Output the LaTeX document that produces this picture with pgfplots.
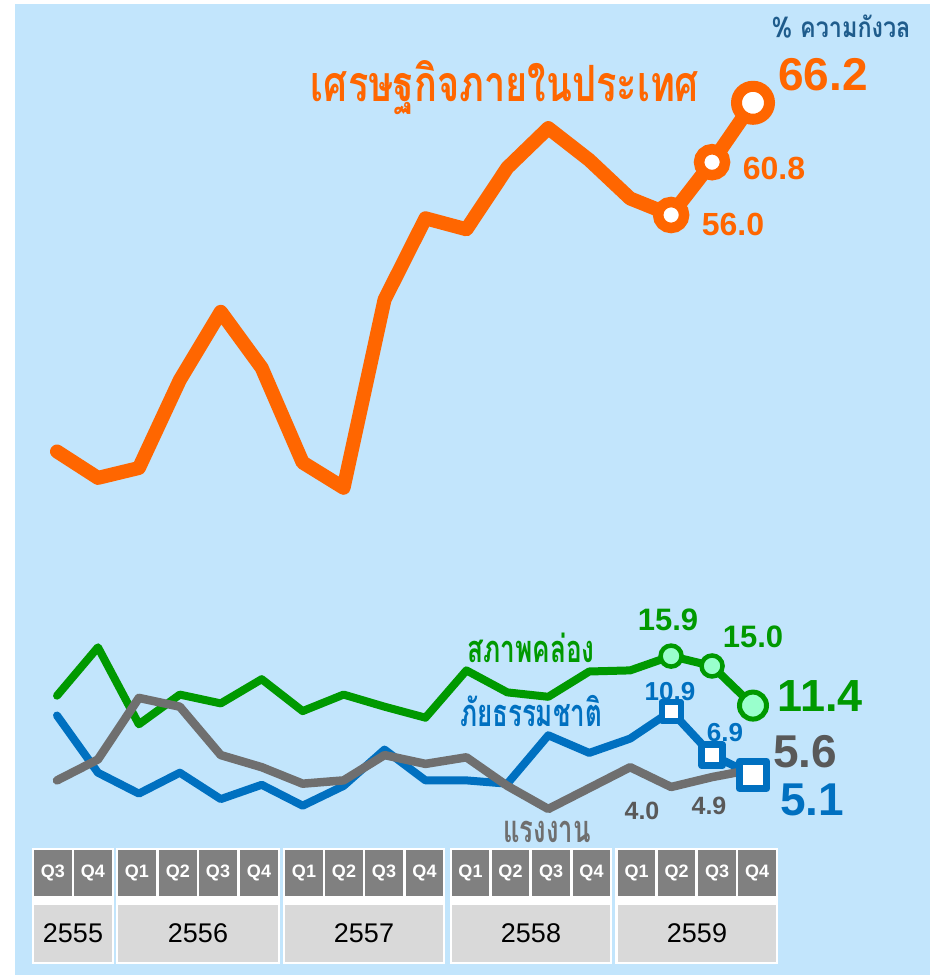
\documentclass[border=0pt]{standalone}
\usepackage{pgfplots}
\pgfplotsset{compat=1.18}
\usepackage{graphicx}
\usepackage{fontspec}
\setmainfont{Liberation Sans}
\newfontfamily\thaifont[Script=Thai]{Loma}
\definecolor{bg}{HTML}{C2E5FC}
\definecolor{orng}{HTML}{FF6600}
\definecolor{grn}{HTML}{009900}
\definecolor{blu}{HTML}{0070C0}
\definecolor{gry}{HTML}{6F6F6F}
\definecolor{dgry}{HTML}{595959}
\definecolor{hdr}{HTML}{808080}
\definecolor{yr}{HTML}{D9D9D9}
\definecolor{lgrn}{HTML}{99FFCC}
\definecolor{ttl}{HTML}{1F5C8C}
\newcommand{\fs}[1]{\fontsize{#1}{#1}\selectfont}

\pgfplotstableread{
x y
0 34.5
1 32.1
2 33.0
3 41.0
4 47.2
5 42.1
6 33.5
7 31.2
8 48.3
9 55.7
10 54.7
11 60.3
12 63.9
13 61.0
14 57.5
15 56.0
16 60.8
17 66.2
}\econ
\pgfplotstableread{
x y
0 12.3
1 16.7
2 9.7
3 12.4
4 11.6
5 13.8
6 10.9
7 12.4
8 11.3
9 10.3
10 14.6
11 12.6
12 12.2
13 14.5
14 14.6
15 15.9
16 15.0
17 11.4
}\liq
\pgfplotstableread{
x y
0 10.5
1 5.3
2 3.4
3 5.3
4 2.9
5 4.2
6 2.3
7 4.1
8 7.4
9 4.6
10 4.6
11 4.3
12 8.7
13 7.1
14 8.4
15 10.9
16 6.9
17 5.1
}\disaster
\pgfplotstableread{
x y
0 4.6
1 6.5
2 12.1
3 11.3
4 6.9
5 5.8
6 4.3
7 4.6
8 6.9
9 6.1
10 6.7
11 4.1
12 2.0
13 3.9
14 5.8
15 4.0
16 4.9
17 5.6
}\labour

\begin{document}
\begin{tikzpicture}
\path[use as bounding box] (0,0) rectangle (465pt,487.5pt);
\begin{scope}[shift={(0,487.5pt)},x=0.5pt,y=-0.5pt]
\fill[white] (0,0) rectangle (930,975);
\fill[bg] (15,4) rectangle (930,975);
\foreach \a/\b in {32/114,116/280,283/445,450/612,615/778}{\fill[white] (\a,848) rectangle (\b,964);}
\foreach \a/\b/\q in {34/72/Q3,74/112/Q4,118/156/Q1,159/197/Q2,199/237/Q3,240/278/Q4,285/323/Q1,325/363/Q2,365/403/Q3,406/443/Q4,452/489/Q1,492/529/Q2,532/570/Q3,573/610/Q4,618/655/Q1,658/695/Q2,698/736/Q3,738/776/Q4}{
  \fill[hdr] (\a,850) rectangle (\b,896);
  \node[white,font=\bfseries\fs{9}] at ({(\a+\b)/2},873) {\q};
}
\foreach \a/\b/\y in {34/112/2555,118/278/2556,285/443/2557,452/610/2558,618/776/2559}{
  \fill[yr] (\a,905) rectangle (\b,962);
  \node[black,font=\fs{13.5}] at ({(\a+\b)/2},933.5) {\y};
}
\end{scope}
\begin{axis}[at={(0,0)},anchor=south west,width=465pt,height=487.5pt,scale only axis,
  xmin=-1.3923,xmax=21.3236,ymin=-13.091,ymax=75.545,hide axis,clip=false]
\addplot[orng,line width=7pt,line join=round,line cap=round,mark=none] table[x=x,y=y]{\econ};
\addplot[only marks,mark=*,mark size=6.5pt,mark options={fill=white,draw=orng,line width=5.25pt}] coordinates {(15,56.0) (16,60.8)};
\addplot[only marks,mark=*,mark size=8.25pt,mark options={fill=white,draw=orng,line width=5.5pt}] coordinates {(17,66.2)};
\addplot[grn,line width=4pt,line join=round,line cap=round,mark=none] table[x=x,y=y]{\liq};
\addplot[only marks,mark=*,mark size=5.25pt,mark options={fill=lgrn,draw=grn,line width=2.25pt}] coordinates {(15,15.9) (16,15.0)};
\addplot[only marks,mark=*,mark size=6.75pt,mark options={fill=lgrn,draw=grn,line width=2.5pt}] coordinates {(17,11.4)};
\addplot[blu,line width=4pt,line join=round,line cap=round,mark=none] table[x=x,y=y]{\disaster};
\addplot[only marks,mark=square*,mark size=4.75pt,mark options={fill=white,draw=blu,line width=3pt,line join=round}] coordinates {(15,10.9)};
\addplot[only marks,mark=square*,mark size=5.25pt,mark options={fill=white,draw=blu,line width=3.25pt,line join=round}] coordinates {(16,6.9)};
\addplot[only marks,mark=square*,mark size=6.75pt,mark options={fill=white,draw=blu,line width=3.75pt,line join=round}] coordinates {(17,5.1)};
\addplot[gry,line width=4.25pt,line join=round,line cap=round,mark=none] table[x=x,y=y]{\labour};
\end{axis}
\begin{scope}[shift={(0,487.5pt)},x=0.5pt,y=-0.5pt]
\node[ttl,anchor=base,inner sep=0pt] at (841,38) {\resizebox{69.5pt}{\height}{\thaifont\bfseries\fs{14}\% ความกังวล}};
\node[orng,anchor=base,inner sep=0pt] at (505,102) {\resizebox{194pt}{\height}{\thaifont\bfseries\fs{25}เศรษฐกิจภายในประเทศ}};
\node[grn,anchor=base,inner sep=0pt] at (531,663) {\resizebox{63.5pt}{\height}{\thaifont\bfseries\fs{19}สภาพคล่อง}};
\node[blu,anchor=base,inner sep=0pt] at (531,727) {\resizebox{71pt}{\height}{\thaifont\bfseries\fs{19}ภัยธรรมชาติ}};
\node[gry,anchor=base,inner sep=0pt] at (547,843) {\resizebox{43.5pt}{\height}{\thaifont\bfseries\fs{19}แรงงาน}};
\node[orng,font=\bfseries\fs{23},inner sep=0pt] at (823,75) {66.2};
\node[orng,font=\bfseries\fs{16},inner sep=0pt] at (774,168) {60.8};
\node[orng,font=\bfseries\fs{16},inner sep=0pt] at (733,224) {56.0};
\node[grn,font=\bfseries\fs{15.5},inner sep=0pt] at (668,620) {15.9};
\node[grn,font=\bfseries\fs{15.5},inner sep=0pt] at (753,637) {15.0};
\node[grn,font=\bfseries\fs{22.5},inner sep=0pt] at (820,696) {11.4};
\node[blu,font=\bfseries\fs{13},inner sep=0pt] at (670,692) {10.9};
\node[blu,font=\bfseries\fs{13},inner sep=0pt] at (725,733) {6.9};
\node[dgry,font=\bfseries\fs{23},inner sep=0pt] at (805,752) {5.6};
\node[blu,font=\bfseries\fs{23},inner sep=0pt] at (812,800) {5.1};
\node[dgry,font=\bfseries\fs{12.5},inner sep=0pt] at (642,811) {4.0};
\node[dgry,font=\bfseries\fs{12.5},inner sep=0pt] at (709,806) {4.9};
\end{scope}
\end{tikzpicture}
\end{document}
